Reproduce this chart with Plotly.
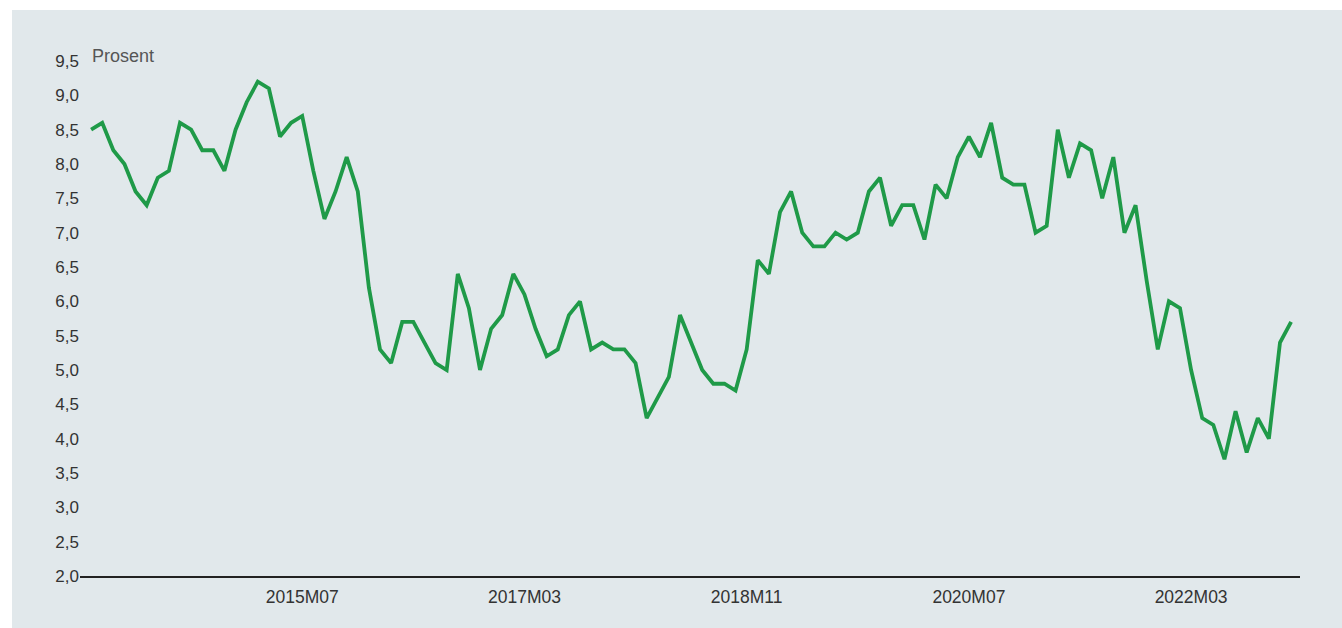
import plotly.graph_objects as go

# Monthly values, 2013M12 .. 2022M12 (percent)
values = [
    8.5, 8.6, 8.2, 8.0, 7.6, 7.4, 7.8, 7.9, 8.6, 8.5, 8.2, 8.2, 7.9, 8.5, 8.9, 9.2,
    9.1, 8.4, 8.6, 8.7, 7.9, 7.2, 7.6, 8.1, 7.6, 6.2, 5.3, 5.1, 5.7, 5.7, 5.4, 5.1,
    5.0, 6.4, 5.9, 5.0, 5.6, 5.8, 6.4, 6.1, 5.6, 5.2, 5.3, 5.8, 6.0, 5.3, 5.4, 5.3,
    5.3, 5.1, 4.3, 4.6, 4.9, 5.8, 5.4, 5.0, 4.8, 4.8, 4.7, 5.3, 6.6, 6.4, 7.3, 7.6,
    7.0, 6.8, 6.8, 7.0, 6.9, 7.0, 7.6, 7.8, 7.1, 7.4, 7.4, 6.9, 7.7, 7.5, 8.1, 8.4,
    8.1, 8.6, 7.8, 7.7, 7.7, 7.0, 7.1, 8.5, 7.8, 8.3, 8.2, 7.5, 8.1, 7.0, 7.4, 6.3,
    5.3, 6.0, 5.9, 5.0, 4.3, 4.2, 3.7, 4.4, 3.8, 4.3, 4.0, 5.4, 5.7,
]

start_year, start_month = 2013, 12
months = []
y, m = start_year, start_month
for _ in values:
    months.append(f"{y}M{m:02d}")
    m += 1
    if m > 12:
        m = 1
        y += 1

x_tick_labels = ["2015M07", "2017M03", "2018M11", "2020M07", "2022M03"]
y_tick_vals = [2.0, 2.5, 3.0, 3.5, 4.0, 4.5, 5.0, 5.5, 6.0, 6.5, 7.0, 7.5, 8.0, 8.5, 9.0, 9.5]
y_tick_text = [f"{v:.1f}".replace(".", ",") for v in y_tick_vals]

PANEL = "#e1e8eb"
FONT = "Liberation Sans, Arial, sans-serif"
W, H = 1342, 628
L, R, T, B = 80, 42, 61, 52
pw, ph = W - L - R, H - T - B

fig = go.Figure()
fig.add_trace(go.Scatter(
    x=months, y=values, mode="lines",
    line=dict(color="#1f9a48", width=3.8),
    hoverinfo="x+y", showlegend=False,
))

fig.add_shape(
    type="rect", xref="paper", yref="paper", layer="below",
    x0=(12 - L) / pw, x1=(W + 10 - L) / pw,
    y0=-(B + 10) / ph, y1=((H - B) - 10) / ph,
    fillcolor=PANEL, line=dict(width=0),
)

fig.add_annotation(
    text="Prosent", xref="paper", yref="paper",
    x=(90 - L) / pw, y=((H - B) - 56) / ph,
    xanchor="left", yanchor="middle", showarrow=False,
    font=dict(size=18, color="#555555", family=FONT),
)

fig.update_layout(
    width=W, height=H,
    margin=dict(l=L, r=R, t=T, b=B),
    paper_bgcolor="white",
    plot_bgcolor=PANEL,
    font=dict(family=FONT, size=17, color="#333333"),
    xaxis=dict(
        type="category",
        range=[-1, len(values) - 0.2],
        tickmode="array", tickvals=x_tick_labels, ticktext=x_tick_labels,
        showgrid=False, zeroline=False,
        showline=True, linecolor="#222222", linewidth=1.5,
        ticks="", ticklen=0, ticklabelstandoff=4,
        tickfont=dict(size=17.5, color="#333333"),
    ),
    yaxis=dict(
        range=[2.0, 9.5],
        tickmode="array", tickvals=y_tick_vals, ticktext=y_tick_text,
        showgrid=False, zeroline=False, showline=False,
        ticks="", tickfont=dict(size=17, color="#333333"),
    ),
)

fig.write_html("out.html")
